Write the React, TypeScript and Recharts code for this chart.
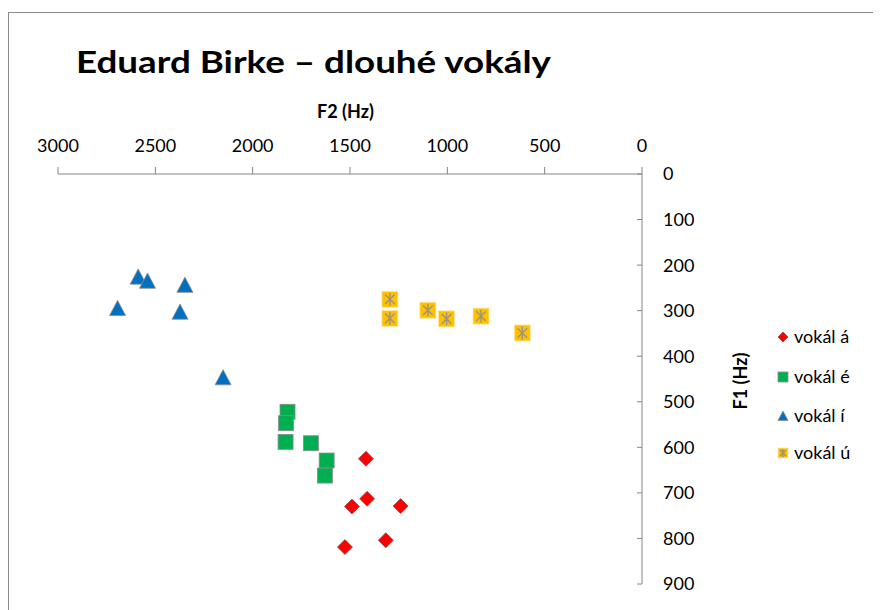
import React from "react";
import { ScatterChart, Scatter, XAxis, YAxis } from "recharts";

// F2 / F1 values (Hz)
const vokalA = [
  { f2: 1418, f1: 625 },
  { f2: 1412, f1: 713 },
  { f2: 1490, f1: 730 },
  { f2: 1240, f1: 729 },
  { f2: 1526, f1: 819 },
  { f2: 1316, f1: 804 },
];
const vokalE = [
  { f2: 1821, f1: 522 },
  { f2: 1829, f1: 547 },
  { f2: 1831, f1: 588 },
  { f2: 1701, f1: 591 },
  { f2: 1620, f1: 629 },
  { f2: 1629, f1: 662 },
];
const vokalI = [
  { f2: 2588, f1: 226 },
  { f2: 2540, f1: 235 },
  { f2: 2348, f1: 244 },
  { f2: 2694, f1: 295 },
  { f2: 2373, f1: 303 },
  { f2: 2152, f1: 447 },
];
const vokalU = [
  { f2: 1295, f1: 275 },
  { f2: 1295, f1: 317 },
  { f2: 1100, f1: 299 },
  { f2: 1004, f1: 318 },
  { f2: 827, f1: 312 },
  { f2: 615, f1: 349 },
];
const xTicks = [0, 500, 1000, 1500, 2000, 2500, 3000];
const yTicks = [0, 100, 200, 300, 400, 500, 600, 700, 800, 900];
const seriesNames = ["vokál á", "vokál é", "vokál í", "vokál ú"];

const FONT = "Lato, 'Open Sans', sans-serif";
const AXIS = "#868686";

const Diamond = ({ cx, cy, s = 7.5 }: any) => (
  <polygon
    points={`${cx},${cy - s} ${cx + s},${cy} ${cx},${cy + s} ${cx - s},${cy}`}
    fill="#ff0000"
    stroke="#8a5050"
    strokeWidth={0.8}
  />
);
const Square = ({ cx, cy, s = 7.5 }: any) => (
  <rect x={cx - s} y={cy - s} width={2 * s} height={2 * s} fill="#00b050" stroke="#8c8c8c" strokeWidth={0.8} />
);
const Triangle = ({ cx, cy, s = 8 }: any) => (
  <polygon
    points={`${cx},${cy - s} ${cx + s},${cy + s * 0.9} ${cx - s},${cy + s * 0.9}`}
    fill="#0070c0"
    stroke="#8c8c8c"
    strokeWidth={0.8}
  />
);
const StarBox = ({ cx, cy, s = 8 }: any) => (
  <g>
    <rect x={cx - s} y={cy - s} width={2 * s} height={2 * s} fill="#ffc000" stroke="#ffe8a0" strokeWidth={0.8} />
    <path
      d={`M${cx - s * 0.6},${cy - s * 0.6} L${cx + s * 0.6},${cy + s * 0.6} M${cx + s * 0.6},${cy - s * 0.6} L${cx - s * 0.6},${cy + s * 0.6} M${cx},${cy - s * 0.8} L${cx},${cy + s * 0.8}`}
      stroke="#9a9484"
      strokeWidth={1.4}
    />
  </g>
);

const YTick = ({ x, y, payload }: any) => (
  <g>
    <line x1={x - 21 - 5} x2={x - 21} y1={y} y2={y} stroke={AXIS} />
    <text x={x} y={y} dy="0.36em" textAnchor="start" fontSize={18} fontFamily={FONT} fill="#000">
      {payload.value}
    </text>
  </g>
);

const markers = [Diamond, Square, Triangle, StarBox];
const legendY = [329, 369, 408, 445];

export default function App() {
  return (
    <div style={{ position: "relative", width: 873, height: 602, background: "#fff" }}>
      <div style={{ position: "absolute", left: 0, top: 4, width: 873, height: 1, background: "#8a8a8a" }} />
      <div style={{ position: "absolute", left: 0, top: 4, width: 1, height: 598, background: "#8a8a8a" }} />
      <ScatterChart width={873} height={602} margin={{ top: 136, right: 179, bottom: 26, left: 50 }}>
        <XAxis
          type="number"
          dataKey="f2"
          orientation="top"
          domain={[0, 3000]}
          reversed
          ticks={xTicks}
          interval={0}
          height={30}
          tickSize={7}
          tickMargin={15}
          axisLine={{ stroke: AXIS }}
          tickLine={{ stroke: AXIS }}
          tick={{ fill: "#000", fontSize: 18, fontFamily: FONT }}
        />
        <YAxis
          type="number"
          dataKey="f1"
          orientation="right"
          domain={[0, 900]}
          reversed
          ticks={yTicks}
          interval={0}
          width={60}
          tickSize={0}
          tickMargin={21}
          tickLine={false}
          axisLine={{ stroke: AXIS }}
          tick={<YTick />}
        />
        <Scatter name={seriesNames[0]} data={vokalA} isAnimationActive={false} shape={(p: any) => <Diamond cx={p.cx} cy={p.cy} />} />
        <Scatter name={seriesNames[1]} data={vokalE} isAnimationActive={false} shape={(p: any) => <Square cx={p.cx} cy={p.cy} />} />
        <Scatter name={seriesNames[2]} data={vokalI} isAnimationActive={false} shape={(p: any) => <Triangle cx={p.cx} cy={p.cy} />} />
        <Scatter name={seriesNames[3]} data={vokalU} isAnimationActive={false} shape={(p: any) => <StarBox cx={p.cx} cy={p.cy} />} />
      </ScatterChart>
      <svg
        width={873}
        height={602}
        style={{ position: "absolute", left: 0, top: 0, pointerEvents: "none" }}
      >
        <text
          x={68}
          y={65.3}
          fontSize={30}
          fontWeight={700}
          fontFamily={FONT}
          fill="#000"
          textLength={475}
          lengthAdjust="spacingAndGlyphs"
        >
          Eduard Birke – dlouhé vokály
        </text>
        <text x={337.5} y={109.7} fontSize={18} fontWeight={700} fontFamily={FONT} fill="#000" textAnchor="middle">
          F2 (Hz)
        </text>
        <text
          x={0}
          y={0}
          transform="translate(733,373) rotate(-90)"
          dy="0.36em"
          fontSize={18}
          fontWeight={700}
          fontFamily={FONT}
          fill="#000"
          textAnchor="middle"
        >
          F1 (Hz)
        </text>
        {seriesNames.map((n, i) => {
          const M = markers[i];
          return (
            <g key={n}>
              <M cx={775} cy={legendY[i]} s={5} />
              <text x={786} y={legendY[i]} dy="0.36em" fontSize={18} fontFamily={FONT} fill="#000">
                {n}
              </text>
            </g>
          );
        })}
      </svg>
    </div>
  );
}
